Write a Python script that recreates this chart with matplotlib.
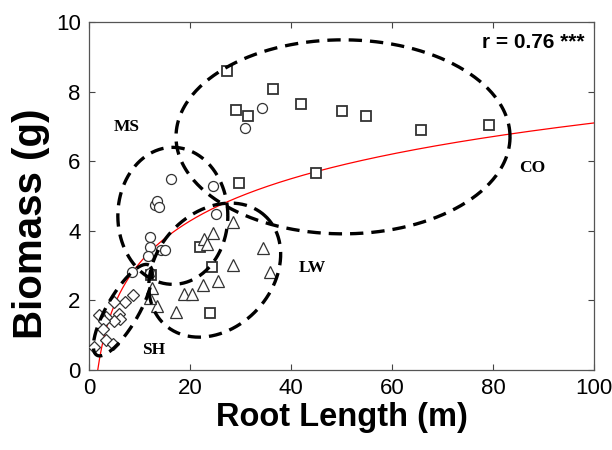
import numpy as np
import matplotlib
matplotlib.use("Agg")
import matplotlib.pyplot as plt

# ---- data ----
co_x = [27.4, 36.4, 29.2, 31.5, 41.9, 50.0, 54.9, 65.7, 79.3, 45.0, 29.7, 22.0, 24.4, 23.9, 12.3]
co_y = [8.60, 8.07, 7.46, 7.30, 7.63, 7.43, 7.30, 6.90, 7.03, 5.67, 5.36, 3.53, 2.95, 1.65, 2.72]

ms_x = [34.3, 30.9, 16.3, 24.5, 13.0, 13.4, 13.9, 25.1, 12.1, 12.1, 11.7, 14.3, 15.0, 8.5, 12.1]
ms_y = [7.54, 6.95, 5.49, 5.30, 4.75, 4.87, 4.68, 4.48, 3.83, 3.53, 3.27, 3.45, 3.45, 2.81, 2.78]

lw_x = [28.6, 24.6, 22.8, 23.3, 34.4, 28.6, 35.8, 25.5, 22.6, 18.8, 20.3, 17.2, 13.5, 12.1, 12.4]
lw_y = [4.24, 3.93, 3.75, 3.61, 3.50, 3.02, 2.83, 2.57, 2.44, 2.18, 2.18, 1.68, 1.85, 2.08, 2.35]

sh_x = [8.8, 7.1, 5.0, 6.0, 6.1, 5.0, 3.4, 2.0, 3.0, 2.8, 3.4, 4.8, 1.0]
sh_y = [2.16, 1.94, 1.94, 1.60, 1.46, 1.42, 1.53, 1.58, 1.40, 1.18, 0.86, 0.75, 0.65]

# logarithmic fit y = a*ln(x) + b
fit_a = 1.75
fit_b = -0.96

x_ticks = [0, 20, 40, 60, 80, 100]
y_ticks = [0, 2, 4, 6, 8, 10]

# group ellipses: centre (data), semi-axes (pixels), rotation (deg)
ellipse_names = ["CO", "MS", "LW", "SH"]
ellipse_cx = [50.3, 16.6, 24.9, 6.7]
ellipse_cy = [6.70, 4.43, 2.87, 1.72]
ellipse_a = [167, 55, 74, 52]
ellipse_b = [97, 68.5, 58, 16]
ellipse_ang = [0, 0, 47, 60]

label_x = [87.7, 7.5, 44.2, 12.7]
label_y = [5.80, 6.98, 2.93, 0.57]

# ---- figure ----
fig = plt.figure(figsize=(6.12, 4.5), dpi=100)
ax = fig.add_axes([89/612, 80/450, 505/612, 348/450])
ax.set_xlim(0, 100)
ax.set_ylim(0, 10)

mk = dict(linestyle="none", markerfacecolor="white", zorder=4)
ax.plot(co_x, co_y, marker="s", markersize=7.5, markeredgecolor="#333333", markeredgewidth=1.3, **mk)
ax.plot(ms_x, ms_y, marker="o", markersize=7.2, markeredgecolor="#333333", markeredgewidth=0.9, **mk)
ax.plot(lw_x, lw_y, marker="^", markersize=8.5, markeredgecolor="#333333", markeredgewidth=0.9, **mk)
ax.plot(sh_x, sh_y, marker="D", markersize=6.2, markeredgecolor="#333333", markeredgewidth=0.9, **mk)

# fitted curve
x0 = np.exp(-fit_b / fit_a)
xs = np.linspace(x0, 100, 500)
ax.plot(xs, fit_a * np.log(xs) + fit_b, color="red", lw=0.9, zorder=3)

# ellipses drawn in display-pixel geometry
fig.canvas.draw()
p0 = ax.transData.transform((0, 0))
p1 = ax.transData.transform((1, 1))
sx, sy = p1[0] - p0[0], p1[1] - p0[1]
t = np.linspace(0, 2 * np.pi, 400)
for cx, cy, a, b, ang in zip(ellipse_cx, ellipse_cy, ellipse_a, ellipse_b, ellipse_ang):
    th = np.deg2rad(ang)
    dx = a * np.cos(t) * np.cos(th) - b * np.sin(t) * np.sin(th)
    dy = a * np.cos(t) * np.sin(th) + b * np.sin(t) * np.cos(th)
    ax.plot(cx + dx / sx, cy + dy / sy, color="black", lw=2.4,
            dashes=(4.0, 2.4), zorder=5, dash_capstyle="butt")

for name, lx, ly in zip(ellipse_names, label_x, label_y):
    ax.text(lx, ly, name, fontsize=12.5, fontweight="bold", family="Liberation Serif",
            ha="center", va="center", zorder=6)

ax.text(0.982, 0.94, "r = 0.76 ***", transform=ax.transAxes, ha="right", va="center",
        fontsize=15, fontweight="bold", family="Liberation Sans")

ax.set_xticks(x_ticks)
ax.set_yticks(y_ticks)
ax.tick_params(direction="in", length=4, width=0.8, top=True, right=True,
               labelsize=16, colors="#444444", labelcolor="black", pad=6)
for lab in ax.get_xticklabels() + ax.get_yticklabels():
    lab.set_family("Liberation Sans")
for s in ax.spines.values():
    s.set_color("#555555")
    s.set_linewidth(0.9)

ax.set_xlabel("Root Length (m)", fontsize=23.5, fontweight="bold", family="Liberation Sans", labelpad=2)
ax.set_ylabel("Biomass (g)", fontsize=29, fontweight="bold", family="Liberation Sans")
ax.yaxis.set_label_coords(-0.078, 0.42)

fig.savefig("out.png", dpi=100)
